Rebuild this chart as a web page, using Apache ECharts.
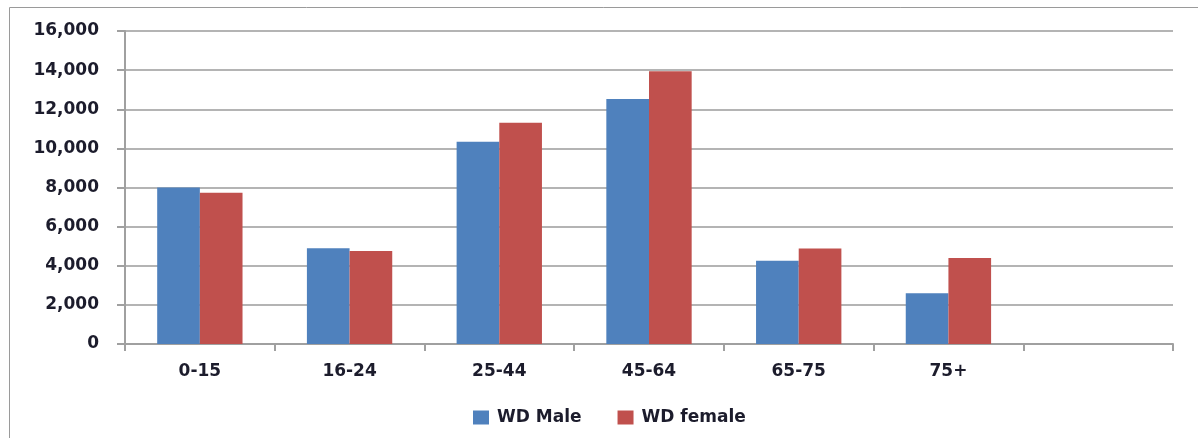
<!DOCTYPE html>
<html lang="en">
<head>
    <meta charset="UTF-8">
    <title>WD by age group</title>
    <script src="https://cdn.jsdelivr.net/npm/echarts@6/dist/echarts.min.js"></script>
    <style>
        body { margin: 0; padding: 0; background: #fff; }
        #main { width: 1198px; height: 438px; }
    </style>
</head>
<body>
    <div id="main"></div>
    <script>
        // age groups (last slot is empty in the original)
        const categories = ['0-15', '16-24', '25-44', '45-64', '65-75', '75+', ''];
        const wdMale = [8000, 4900, 10340, 12530, 4250, 2600, null];
        const wdFemale = [7730, 4760, 11310, 13940, 4880, 4390, null];
        const yTicks = { min: 0, max: 16000, interval: 2000 };

        var myChart = echarts.init(document.getElementById('main'));
        var labelFont = { fontFamily: 'DejaVu Sans', fontSize: 17, fontWeight: 'bold', color: '#1c1c2c' };

        var option = {
            animation: false,
            graphic: [{
                type: 'polyline',
                shape: { points: [[9.5, 438], [9.5, 7.5], [1198, 7.5]] },
                style: { stroke: '#9a9a9a', lineWidth: 1, fill: null }
            }],
            grid: { left: 125, right: 25, top: 31, bottom: 94 },
            legend: {
                left: 468,
                top: 404,
                itemWidth: 16,
                itemHeight: 14,
                itemGap: 36,
                icon: 'rect',
                textStyle: Object.assign({ padding: [0, 0, 0, 3] }, labelFont),
                data: ['WD Male', 'WD female']
            },
            xAxis: {
                type: 'category',
                data: categories,
                axisLine: { lineStyle: { color: '#a0a0a0', width: 2 } },
                axisTick: { show: true, length: 7, lineStyle: { color: '#a0a0a0', width: 2 } },
                axisLabel: Object.assign({ margin: 19 }, labelFont)
            },
            yAxis: {
                type: 'value',
                min: yTicks.min,
                max: yTicks.max,
                interval: yTicks.interval,
                axisLine: { show: true, lineStyle: { color: '#a0a0a0', width: 2 } },
                axisTick: { show: true, length: 8, lineStyle: { color: '#a0a0a0', width: 2 } },
                splitLine: { lineStyle: { color: '#b4b4b4', width: 2 } },
                axisLabel: Object.assign({
                    margin: 26,
                    formatter: function (v) { return v.toLocaleString('en-US'); }
                }, labelFont)
            },
            series: [
                {
                    name: 'WD Male',
                    type: 'bar',
                    data: wdMale,
                    barGap: '0%',
                    barCategoryGap: '43%',
                    itemStyle: { color: '#4F81BD' }
                },
                {
                    name: 'WD female',
                    type: 'bar',
                    data: wdFemale,
                    itemStyle: { color: '#C0504D' }
                }
            ]
        };

        option && myChart.setOption(option);
    </script>
</body>
</html>
